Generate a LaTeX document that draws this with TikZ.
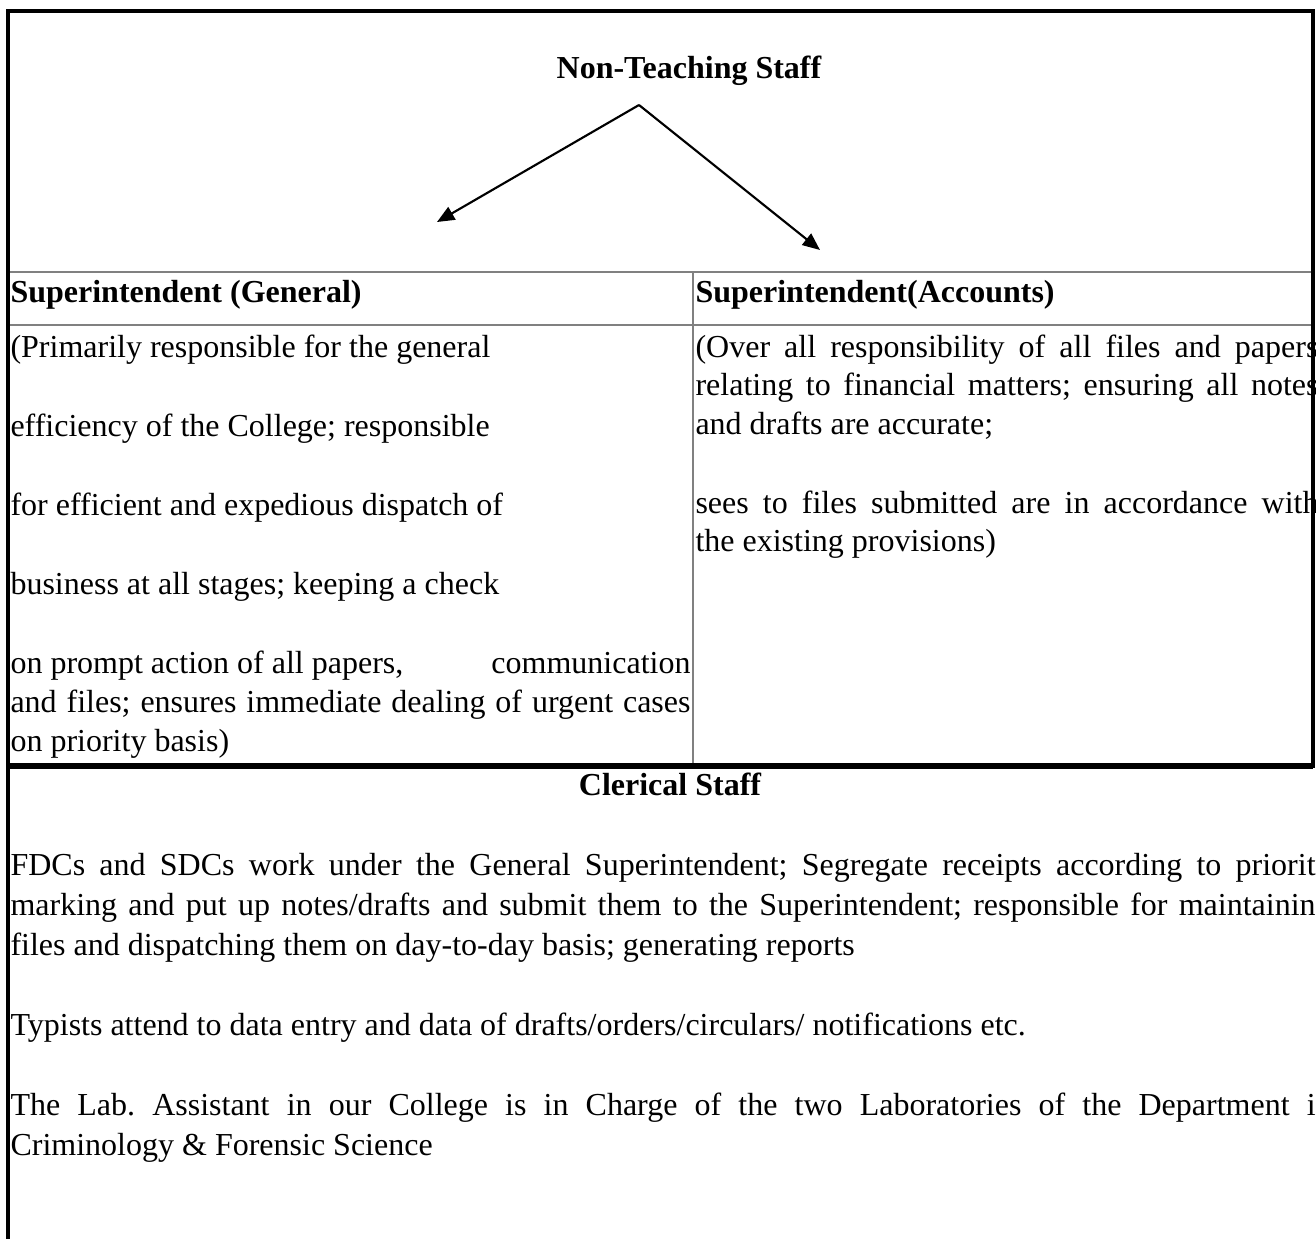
\documentclass[tikz,border=0pt]{standalone}
\usepackage{fontspec}
\setmainfont{Liberation Serif}
\usetikzlibrary{arrows.meta}

\begin{document}
\begin{tikzpicture}[x=0.375pt, y=-0.375pt]
    \tikzstyle{heading}=[inner sep=0pt, anchor=base west, font=\fontsize{12}{14.5}\selectfont\bfseries]
    \tikzstyle{body}=[inner sep=0pt, anchor=base west, font=\fontsize{12}{14.5}\selectfont\frenchspacing]
    \tikzstyle{arrow}=[-{Triangle[length=6.5pt, width=5.4pt]}, line width=0.8pt]
    \tikzstyle{outerline}=[line width=1.2pt, line cap=rect]
    \tikzstyle{tableline}=[draw=gray, line width=0.75pt]

    \useasboundingbox (0,0) rectangle (1316,1239);
    \clip (0,0) rectangle (1316,1239);

    % Title
    \node[heading, anchor=base] (title) at (689,78) {Non-Teaching Staff};
    \coordinate (apex) at (639,105);
    \coordinate (tipgen) at (437,222);
    \coordinate (tipacc) at (820,250);

    % Column headings
    \node[heading] (hgen) at (10,302) {Superintendent (General)};
    \node[heading] (hacc) at (695,302) {Superintendent(Accounts)};

    % General column
    \node[body] (gen1) at (10,357) {(Primarily responsible for the general};
    \node[body] (gen2) at (10,436) {efficiency of the College; responsible};
    \node[body] (gen3) at (10,515) {for efficient and expedious dispatch of};
    \node[body] (gen4) at (10,594) {business at all stages; keeping a check};
    \node[body] (gen5) at (10,673) {\makebox[255pt][s]{on prompt action of all papers,\hfill communication}};
    \node[body] (gen6) at (10,712) {\makebox[255pt][s]{and files; ensures immediate dealing of urgent cases}};
    \node[body] (gen7) at (10,751) {on priority basis)};

    % Accounts column
    \node[body] (acc1) at (695,357) {\makebox[233.6pt][s]{(Over all responsibility of all files and papers}};
    \node[body] (acc2) at (695,395) {\makebox[233.6pt][s]{relating to financial matters; ensuring all notes}};
    \node[body] (acc3) at (695,434) {and drafts are accurate;};
    \node[body] (acc4) at (695,513) {\makebox[233.6pt][s]{sees to files submitted are in accordance with}};
    \node[body] (acc5) at (695,551) {the existing provisions)};

    % Clerical staff
    \node[heading, anchor=base] (clerical) at (670,795) {Clerical Staff};
    \node[body] (cl1) at (10,875) {\makebox[495.4pt][s]{FDCs and SDCs work under the General Superintendent; Segregate receipts according to priority}};
    \node[body] (cl2) at (10,915) {\makebox[495.4pt][s]{marking and put up notes/drafts and submit them to the Superintendent; responsible for maintaining}};
    \node[body] (cl3) at (10,955) {files and dispatching them on day-to-day basis; generating reports};
    \node[body] (cl4) at (10,1035) {Typists attend to data entry and data of drafts/orders/circulars/ notifications etc.};
    \node[body] (cl5) at (10,1115) {\makebox[495.4pt][s]{The Lab. Assistant in our College is in Charge of the two Laboratories of the Department in}};
    \node[body] (cl6) at (10,1155) {Criminology \& Forensic Science};

    % Frame and table rules
    \draw[tableline] (8,272) -- (1313,272);
    \draw[tableline] (8,325) -- (1313,325);
    \draw[tableline] (693,272) -- (693,766);
    \draw[outerline] (8,1239) -- (8,11) -- (1313,11) -- (1313,766);
    \draw[line width=1.9pt] (8,766) -- (1313,766);

    % Arrows
    \draw[arrow] (apex) -- (tipgen);
    \draw[arrow] (apex) -- (tipacc);
\end{tikzpicture}
\end{document}
